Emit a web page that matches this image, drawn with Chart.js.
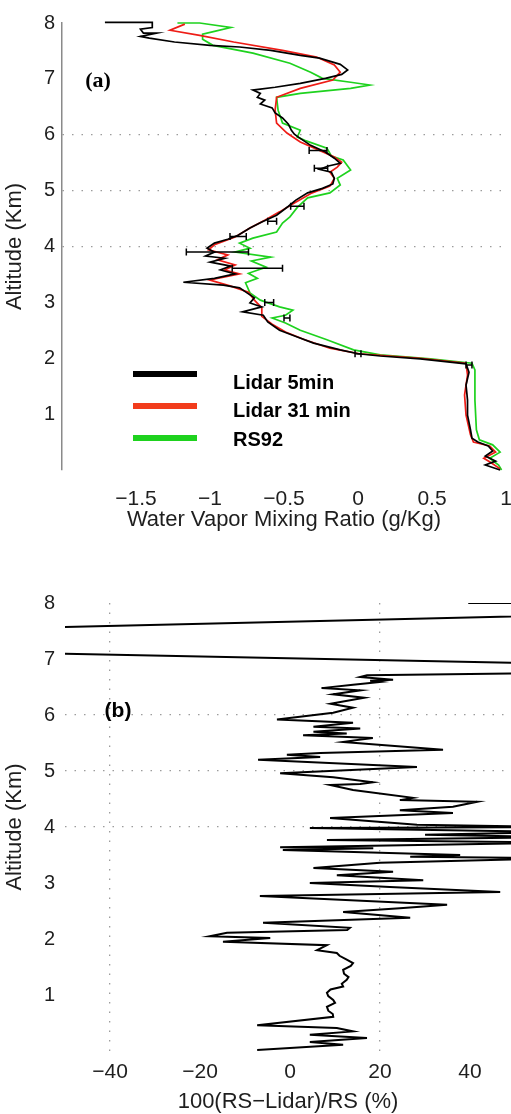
<!DOCTYPE html>
<html>
<head>
<meta charset="utf-8">
<script src="https://cdn.jsdelivr.net/npm/chart.js@4.4.0/dist/chart.umd.min.js"></script>
<style>
  html, body { margin: 0; padding: 0; background: #fff; }
  .panel { position: absolute; left: 0; width: 511px; height: 557px; }
  #panelA { top: 0; }
  #panelB { top: 557px; }
</style>
</head>
<body>
<div class="panel" id="panelA"><canvas id="chartA"></canvas></div>
<div class="panel" id="panelB"><canvas id="chartB"></canvas></div>
<script>
// ---- panel (a): water vapour mixing ratio profiles ----
const altLidar5 = [8.01, 8.01, 7.92, 7.89, 7.82, 7.82, 7.76, 7.73, 7.66, 7.60, 7.57, 7.51, 7.42, 7.37, 7.26, 7.16, 7.08, 7.01, 6.92, 6.85, 6.80, 6.74, 6.67, 6.62, 6.55, 6.48, 6.39, 6.30, 6.19, 6.08, 6.01, 5.97, 5.81, 5.69, 5.58, 5.49, 5.44, 5.38, 5.33, 5.22, 5.12, 5.04, 4.96, 4.83, 4.72, 4.56, 4.44, 4.33, 4.20, 4.13, 4.06, 3.97, 3.90, 3.83, 3.79, 3.72, 3.65, 3.58, 3.51, 3.43, 3.36, 3.31, 3.26, 3.17, 3.08, 2.99, 2.92, 2.83, 2.77, 2.65, 2.50, 2.38, 2.27, 2.15, 2.08, 2.04, 1.99, 1.90, 1.75, 1.52, 1.25, 0.98, 0.72, 0.57, 0.50, 0.43, 0.34, 0.25, 0.16, 0.09, 0.00];
const lidar5 = [-1.71, -1.39, -1.39, -1.47, -1.45, -1.36, -1.47, -1.41, -1.24, -1.00, -0.80, -0.59, -0.39, -0.26, -0.12, -0.07, -0.11, -0.22, -0.39, -0.56, -0.71, -0.66, -0.68, -0.63, -0.66, -0.58, -0.56, -0.51, -0.47, -0.45, -0.43, -0.41, -0.32, -0.22, -0.16, -0.12, -0.20, -0.26, -0.18, -0.16, -0.17, -0.24, -0.34, -0.42, -0.47, -0.55, -0.65, -0.73, -0.81, -0.88, -0.97, -1.02, -0.97, -1.03, -0.90, -1.00, -0.86, -0.93, -0.83, -0.97, -1.18, -0.91, -0.80, -0.75, -0.70, -0.73, -0.65, -0.78, -0.64, -0.61, -0.53, -0.41, -0.30, -0.12, 0.00, 0.15, 0.42, 0.73, 0.75, 0.73, 0.74, 0.74, 0.76, 0.77, 0.81, 0.88, 0.91, 0.86, 0.93, 0.86, 0.96];

const altLidar31 = [7.98, 7.87, 7.78, 7.66, 7.51, 7.39, 7.25, 7.12, 6.98, 6.83, 6.67, 6.44, 6.21, 6.03, 5.87, 5.72, 5.60, 5.51, 5.42, 5.33, 5.22, 5.08, 4.96, 4.78, 4.62, 4.47, 4.33, 4.17, 4.03, 3.94, 3.85, 3.76, 3.67, 3.58, 3.51, 3.40, 3.29, 3.18, 3.04, 2.90, 2.75, 2.61, 2.47, 2.33, 2.18, 2.08, 2.00, 1.91, 1.70, 1.34, 0.98, 0.63, 0.50, 0.43, 0.32, 0.21, 0.13, 0.02];
const lidar31 = [-1.17, -1.27, -1.07, -0.84, -0.51, -0.28, -0.16, -0.12, -0.17, -0.39, -0.55, -0.56, -0.55, -0.48, -0.39, -0.26, -0.16, -0.11, -0.14, -0.19, -0.16, -0.19, -0.31, -0.43, -0.53, -0.63, -0.73, -0.83, -0.97, -1.01, -0.88, -0.95, -0.83, -0.90, -0.80, -1.00, -0.86, -0.74, -0.70, -0.65, -0.65, -0.58, -0.49, -0.36, -0.19, 0.01, 0.42, 0.73, 0.74, 0.72, 0.73, 0.76, 0.78, 0.89, 0.93, 0.85, 0.90, 0.96];

const altRs92 = [8.00, 8.00, 7.92, 7.85, 7.80, 7.71, 7.60, 7.46, 7.28, 7.12, 7.01, 6.94, 6.89, 6.83, 6.74, 6.67, 6.44, 6.21, 6.08, 5.96, 5.90, 5.76, 5.62, 5.55, 5.37, 5.22, 5.10, 4.96, 4.87, 4.70, 4.53, 4.42, 4.26, 4.15, 4.06, 3.97, 3.90, 3.81, 3.74, 3.63, 3.52, 3.43, 3.35, 3.17, 3.04, 2.92, 2.86, 2.77, 2.72, 2.63, 2.50, 2.33, 2.15, 2.06, 1.99, 1.91, 1.79, 1.25, 0.72, 0.54, 0.45, 0.32, 0.21, 0.09, 0.00];
const rs92 = [-1.22, -1.07, -0.86, -0.97, -1.05, -1.05, -0.98, -0.71, -0.46, -0.32, -0.24, -0.05, 0.08, -0.05, -0.39, -0.55, -0.54, -0.51, -0.39, -0.41, -0.36, -0.21, -0.18, -0.10, -0.05, -0.14, -0.12, -0.19, -0.34, -0.41, -0.46, -0.51, -0.55, -0.71, -0.80, -0.73, -0.83, -0.59, -0.72, -0.62, -0.74, -0.68, -0.76, -0.73, -0.66, -0.53, -0.44, -0.49, -0.58, -0.49, -0.39, -0.21, -0.03, 0.15, 0.49, 0.77, 0.79, 0.79, 0.80, 0.82, 0.91, 0.96, 0.89, 0.95, 0.97];

// error bars on the 5 min lidar profile
const errAlt = [5.72, 5.40, 4.72, 4.45, 4.18, 3.90, 3.61, 3.00, 2.72, 2.08, 1.88];
const errMid = [-0.27, -0.25, -0.41, -0.58, -0.81, -0.95, -0.68, -0.60, -0.48, 0.00, 0.75];
const errHalf = [0.06, 0.045, 0.045, 0.03, 0.055, 0.21, 0.17, 0.03, 0.02, 0.02, 0.02];

const ticksA = [-1.5, -1, -0.5, 0, 0.5, 1];
const altTicks = [1, 2, 3, 4, 5, 6, 7, 8];
const altGrid = [4, 5, 6];

// ---- panel (b): relative difference RS92 - lidar ----
const altDiff = [8.00, 8.00, 7.80, 7.55, 7.11, 6.90, 6.76, 6.71, 6.68, 6.63, 6.61, 6.59, 6.54, 6.48, 6.44, 6.37, 6.31, 6.20, 6.13, 6.04, 5.92, 5.86, 5.79, 5.76, 5.70, 5.67, 5.64, 5.59, 5.52, 5.38, 5.32, 5.29, 5.25, 5.20, 5.07, 4.96, 4.89, 4.80, 4.77, 4.75, 4.66, 4.52, 4.48, 4.45, 4.36, 4.30, 4.25, 4.16, 4.04, 4.00, 3.98, 3.91, 3.86, 3.82, 3.77, 3.72, 3.64, 3.62, 3.59, 3.50, 3.47, 3.44, 3.36, 3.27, 3.20, 3.14, 3.05, 3.00, 2.93, 2.84, 2.77, 2.61, 2.55, 2.48, 2.38, 2.29, 2.20, 2.16, 2.11, 2.05, 2.02, 1.95, 1.89, 1.80, 1.75, 1.70, 1.63, 1.57, 1.52, 1.45, 1.38, 1.32, 1.27, 1.20, 1.15, 1.10, 1.04, 0.98, 0.91, 0.86, 0.79, 0.72, 0.66, 0.61, 0.46, 0.41, 0.35, 0.29, 0.23, 0.16, 0.11, 0.02];
const diff = [39.6, 70, 70, -60, -60, 70, 70, 17.1, 15.6, 22.9, 17.8, 20.0, 14.0, 7.0, 15.6, 9.6, 16.5, 9.0, 14.0, 9.6, -2.9, 14.0, 5.2, 15.6, 5.2, 12.6, 2.9, 18.4, 11.8, 34.0, 6.7, -0.7, 6.7, -7.1, 28.2, -2.2, 9.6, 18.4, 15.6, 8.9, 14.0, 27.3, 24.4, 41.6, 36.2, 24.4, 36.2, 8.9, 28.2, 60, 4.4, 60, 30, 60, 8.2, 60, -2.2, 18.5, -1.6, 37.8, 26.7, 60, 20.0, 5.2, 22.9, 10.4, 29.6, 4.4, 22.2, 46.7, -6.7, 34.9, 24.4, 11.8, 26.7, -6.0, 13.3, 12.7, -14.0, -17.8, -4.4, -14.9, 8.2, 6.0, 10.4, 11.0, 12.6, 14.0, 13.5, 11.8, 12.0, 13.0, 12.6, 11.5, 11.8, 9.0, 8.2, 8.5, 9.6, 10.0, 8.2, 8.5, 9.5, 9.6, -7.3, 10.4, 14.0, 4.4, 17.1, 4.4, 11.8, -7.3];

const ticksB = [-40, -20, 0, 20, 40];
const diffGrid = [-40, 20];

const FONT = "'Liberation Sans', Arial, Helvetica, sans-serif";
const TXT = '#1e1e1e';
const DOTS = '#9c9c9c';

function toPoints(xs, ys) {
  const n = Math.min(xs.length, ys.length);
  const pts = [];
  for (let i = 0; i < n; i++) pts.push({ x: xs[i], y: ys[i] });
  return pts;
}
function minus(v) { return String(v).replace('-', '\u2212'); }
function gridColor(list) {
  return ctx => (ctx.tick && list.includes(ctx.tick.value)) ? DOTS : 'rgba(0,0,0,0)';
}

// legend, panel letter and error bars for (a)
const decorA = {
  id: 'decorA',
  afterDatasetsDraw(chart) {
    const ctx = chart.ctx;
    const xs = chart.scales.x, ys = chart.scales.y;
    ctx.save();
    // error bars
    ctx.strokeStyle = '#000';
    ctx.lineWidth = 1.5;
    for (let i = 0; i < errAlt.length; i++) {
      const y = ys.getPixelForValue(errAlt[i]);
      const x1 = xs.getPixelForValue(errMid[i] - errHalf[i]);
      const x2 = xs.getPixelForValue(errMid[i] + errHalf[i]);
      ctx.beginPath();
      ctx.moveTo(x1, y); ctx.lineTo(x2, y);
      ctx.moveTo(x1, y - 3.5); ctx.lineTo(x1, y + 3.5);
      ctx.moveTo(x2, y - 3.5); ctx.lineTo(x2, y + 3.5);
      ctx.stroke();
    }
    // legend
    const colors = ['#000000', '#f23c1c', '#1ed21e'];
    chart.data.datasets.forEach((ds, i) => {
      const ly = 374 + i * 32;
      ctx.strokeStyle = colors[i];
      ctx.lineWidth = 6;
      ctx.beginPath(); ctx.moveTo(133, ly); ctx.lineTo(197, ly); ctx.stroke();
      ctx.fillStyle = '#000';
      ctx.font = 'bold 20px ' + FONT;
      ctx.textBaseline = 'middle';
      ctx.textAlign = 'left';
      ctx.fillText(ds.label, 233, 383 + i * 28.5);
    });
    ctx.font = "bold 22px 'Liberation Serif', 'Times New Roman', serif";
    ctx.textAlign = 'center';
    ctx.fillText('(a)', 98, 81);
    ctx.restore();
  }
};

const decorB = {
  id: 'decorB',
  afterDatasetsDraw(chart) {
    const ctx = chart.ctx;
    ctx.save();
    ctx.fillStyle = '#000';
    ctx.font = 'bold 21px ' + FONT;
    ctx.textBaseline = 'middle';
    ctx.textAlign = 'center';
    ctx.fillText('(b)', 118, 154);
    ctx.restore();
  }
};

new Chart(document.getElementById('chartA'), {
  type: 'scatter',
  data: {
    datasets: [
      { label: 'Lidar 5min', data: toPoints(lidar5, altLidar5), borderColor: '#000000', borderWidth: 1.7 },
      { label: 'Lidar 31 min', data: toPoints(lidar31, altLidar31), borderColor: '#ee1c16', borderWidth: 1.7 },
      { label: 'RS92', data: toPoints(rs92, altRs92), borderColor: '#1ed21e', borderWidth: 1.7 }
    ].map(ds => Object.assign(ds, { showLine: true, pointRadius: 0, tension: 0, fill: false, clip: 6 }))
  },
  options: {
    responsive: true,
    maintainAspectRatio: false,
    animation: false,
    layout: { padding: { top: 23, right: 5, left: 0, bottom: 0 } },
    plugins: { legend: { display: false }, tooltip: { enabled: false } },
    scales: {
      x: {
        type: 'linear', min: -2, max: 1,
        afterBuildTicks: s => { s.ticks = ticksA.map(v => ({ value: v })); },
        afterFit: s => { s.height = 87; s.paddingLeft = 0; s.paddingRight = 0; },
        grid: { display: false },
        border: { display: false },
        ticks: { autoSkip: false, maxRotation: 0, padding: 9, color: TXT, font: { family: FONT, size: 21 }, callback: v => minus(v) },
        title: { display: true, text: 'Water Vapor Mixing Ratio (g/Kg)', color: TXT, font: { family: FONT, size: 22 }, padding: { top: 0, bottom: 24 } }
      },
      y: {
        type: 'linear', min: 0, max: 8,
        afterBuildTicks: s => { s.ticks = altTicks.map(v => ({ value: v })); },
        afterFit: s => { s.width = 62; },
        grid: { color: gridColor(altGrid), lineWidth: 1.3, drawTicks: false },
        border: { display: true, color: '#8a8a8a', width: 1.5, dash: [1.5, 8] },
        ticks: { autoSkip: false, padding: 7, color: TXT, font: { family: FONT, size: 20 } },
        title: { display: true, text: 'Altitude (Km)', color: TXT, font: { family: FONT, size: 22 }, padding: { top: 2, bottom: 0 } }
      }
    }
  },
  plugins: [decorA]
});

new Chart(document.getElementById('chartB'), {
  type: 'scatter',
  data: {
    datasets: [
      { label: '100(RS-Lidar)/RS', data: toPoints(diff, altDiff), borderColor: '#000000', borderWidth: 2, showLine: true, pointRadius: 0, tension: 0, fill: false }
    ]
  },
  options: {
    responsive: true,
    maintainAspectRatio: false,
    animation: false,
    layout: { padding: { top: 46, right: 0, left: 0, bottom: 0 } },
    plugins: { legend: { display: false }, tooltip: { enabled: false } },
    scales: {
      x: {
        type: 'linear', min: -50, max: 49.1,
        afterBuildTicks: s => { s.ticks = ticksB.map(v => ({ value: v })); },
        afterFit: s => { s.height = 63; s.paddingLeft = 0; s.paddingRight = 0; },
        grid: { color: gridColor(diffGrid), lineWidth: 1.3, drawTicks: false },
        border: { display: false, dash: [1.5, 8] },
        ticks: { autoSkip: false, maxRotation: 0, padding: 9, color: TXT, font: { family: FONT, size: 21 }, callback: v => minus(v) },
        title: { display: true, text: '100(RS\u2212Lidar)/RS (%)', color: TXT, font: { family: FONT, size: 22, lineHeight: 1.1 }, padding: { top: 0, bottom: 0 } }
      },
      y: {
        type: 'linear', min: 0, max: 8,
        afterBuildTicks: s => { s.ticks = altTicks.map(v => ({ value: v })); },
        afterFit: s => { s.width = 65; },
        grid: { color: gridColor(altGrid), lineWidth: 1.3, drawTicks: false },
        border: { display: false, dash: [1.5, 8] },
        ticks: { autoSkip: false, padding: 10, color: TXT, font: { family: FONT, size: 20 } },
        title: { display: true, text: 'Altitude (Km)', color: TXT, font: { family: FONT, size: 22 }, padding: { top: 2, bottom: 0 } }
      }
    }
  },
  plugins: [decorB]
});
</script>
</body>
</html>
